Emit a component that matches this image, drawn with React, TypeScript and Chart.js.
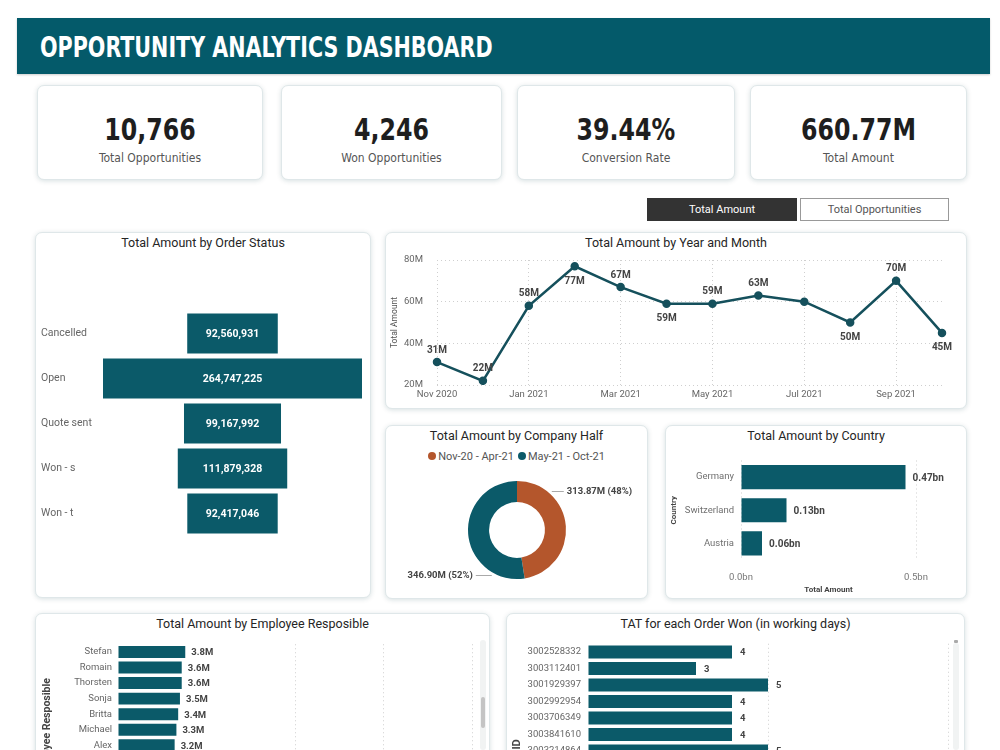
import React, { useEffect, useRef } from 'react';
import { Chart, registerables } from 'chart.js';

Chart.register(...registerables);

const TEAL = '#0b5a69';
const HEADER = '#045a6a';
const LINE = '#15505c';
const ORANGE = '#b4562c';
const GRID = '#cfcfcf';
const FONT = "Roboto, 'Open Sans', sans-serif";
const NARROW = "'Liberation Sans Narrow', 'DejaVu Sans Condensed', 'Roboto Condensed', sans-serif";

// KPI cards
const kpiValues = ['10,766', '4,246', '39.44%', '660.77M'];
const kpiLabels = ['Total Opportunities', 'Won Opportunities', 'Conversion Rate', 'Total Amount'];

// Total Amount by Order Status
const statusCategories = ['Cancelled', 'Open', 'Quote sent', 'Won - s', 'Won - t'];
const statusValues = [92560931, 264747225, 99167992, 111879328, 92417046];

// Total Amount by Year and Month (millions)
const months = ['Nov 2020', 'Dec 2020', 'Jan 2021', 'Feb 2021', 'Mar 2021', 'Apr 2021', 'May 2021', 'Jun 2021', 'Jul 2021', 'Aug 2021', 'Sep 2021', 'Oct 2021'];
const monthValues = [31, 22, 58, 77, 67, 59, 59, 63, 60, 50, 70, 45];
const monthLabelPlacement = ['above', 'above', 'above', 'below', 'above', 'below', 'above', 'above', 'none', 'below', 'above', 'below'];

// Total Amount by Company Half (millions)
const halfLabels = ['Nov-20 - Apr-21', 'May-21 - Oct-21'];
const halfValues = [313.87, 346.9];
const halfColors = [ORANGE, TEAL];

// Total Amount by Country (bn)
const countries = ['Germany', 'Switzerland', 'Austria'];
const countryValues = [0.47, 0.13, 0.06];

// Total Amount by Employee Responsible (millions)
const employees = ['Stefan', 'Romain', 'Thorsten', 'Sonja', 'Britta', 'Michael', 'Alex'];
const employeeValues = [3.8, 3.6, 3.6, 3.5, 3.4, 3.3, 3.2];

// TAT for each order won (working days)
const orderIds = ['3002528332', '3003112401', '3001929397', '3002992954', '3003706349', '3003841610', '3003214864'];
const tatValues = [4, 3, 5, 4, 4, 4, 5];

function barLabelPlugin(fmt: (i: number) => string, opts: { font: string; color: string; inside?: boolean; offset?: number }) {
  return {
    id: 'barLabels',
    afterDatasetsDraw(chart: any) {
      const ctx = chart.ctx;
      const meta = chart.getDatasetMeta(0);
      ctx.save();
      ctx.font = opts.font;
      ctx.fillStyle = opts.color;
      ctx.textBaseline = 'middle';
      meta.data.forEach((el: any, i: number) => {
        const t = fmt(i);
        if (opts.inside) {
          ctx.textAlign = 'center';
          ctx.fillText(t, (el.x + el.base) / 2, el.y + 0.5);
        } else {
          ctx.textAlign = 'left';
          ctx.fillText(t, el.x + (opts.offset || 6), el.y + 1);
        }
      });
      ctx.restore();
    },
  };
}

function ChartBox({ left, top, width, height, make }: { left: number; top: number; width: number; height: number; make: () => any }) {
  const ref = useRef<HTMLCanvasElement>(null);
  useEffect(() => {
    const chart = new Chart(ref.current as HTMLCanvasElement, make());
    return () => chart.destroy();
  }, []);
  return (
    <div style={{ position: 'absolute', left, top, width, height }}>
      <canvas ref={ref} />
    </div>
  );
}

const baseOpts = {
  responsive: true,
  maintainAspectRatio: false,
  animation: false,
  events: [],
};

// fix the axis box so only layout.padding places the plot area
const fixY = (w: number) => (s: any) => {
  s.width = w;
  s.paddingTop = 0;
  s.paddingBottom = 0;
};
const fixX = (h: number) => (s: any) => {
  s.height = h;
  s.paddingLeft = 0;
  s.paddingRight = 0;
};

function statusConfig() {
  const maxV = Math.max(...statusValues);
  return {
    type: 'bar',
    data: {
      labels: statusCategories,
      datasets: [{ data: statusValues.map((v) => [-v / 2, v / 2]), backgroundColor: TEAL, barPercentage: 0.89, categoryPercentage: 1 }],
    },
    options: {
      ...baseOpts,
      indexAxis: 'y',
      layout: { padding: { top: 11, right: 5, bottom: 4, left: 0 } },
      plugins: { legend: { display: false }, tooltip: { enabled: false } },
      scales: {
        x: { display: false, min: -maxV / 2, max: maxV / 2 },
        y: {
          grid: { display: false, drawTicks: false },
          border: { display: false },
          ticks: { crossAlign: 'far', color: '#666', font: { family: FONT, size: 10.5 } },
          afterFit: fixY(62),
        },
      },
    },
    plugins: [barLabelPlugin((i) => statusValues[i].toLocaleString('en-US'), { font: `bold 10.5px ${FONT}`, color: '#fff', inside: true })],
  };
}

function lineConfig() {
  return {
    type: 'line',
    data: {
      labels: months,
      datasets: [{ data: monthValues, borderColor: LINE, backgroundColor: LINE, borderWidth: 2.5, pointRadius: 3, pointBackgroundColor: LINE, tension: 0 }],
    },
    options: {
      ...baseOpts,
      layout: { padding: { top: 10, right: 20, bottom: 0, left: 0 } },
      plugins: { legend: { display: false }, tooltip: { enabled: false } },
      scales: {
        x: {
          offset: false,
          grid: { color: (c: any) => (c.index % 2 === 0 ? GRID : 'transparent'), drawTicks: false },
          border: { display: false, dash: [1, 3] },
          ticks: { autoSkip: false, maxRotation: 0, padding: 4, color: '#666', font: { family: FONT, size: 9.5 }, callback: (_v: any, i: number) => (i % 2 === 0 ? months[i] : '') },
          afterFit: fixX(20),
        },
        y: {
          min: 20,
          max: 80,
          ticks: { stepSize: 20, padding: 14, color: '#666', font: { family: FONT, size: 9.5 }, callback: (v: any) => v + 'M' },
          grid: { color: GRID, drawTicks: false },
          border: { display: false, dash: [1, 3] },
          title: { display: true, text: 'Total Amount', color: '#555', font: { family: FONT, size: 8.5 }, padding: { top: 2, bottom: 0 } },
          afterFit: fixY(49),
        },
      },
    },
    plugins: [
      {
        id: 'pointLabels',
        afterDatasetsDraw(chart: any) {
          const ctx = chart.ctx;
          const meta = chart.getDatasetMeta(0);
          ctx.save();
          ctx.font = `bold 10px ${FONT}`;
          ctx.fillStyle = '#444';
          ctx.textAlign = 'center';
          ctx.textBaseline = 'middle';
          meta.data.forEach((pt: any, i: number) => {
            const p = monthLabelPlacement[i];
            if (p === 'none') return;
            ctx.fillText(monthValues[i] + 'M', pt.x, p === 'above' ? pt.y - 12 : pt.y + 15);
          });
          ctx.restore();
        },
      },
    ],
  };
}

function halfConfig() {
  const anchorAngles = [-48, 119];
  const leaderLength = [12, 16];
  return {
    type: 'doughnut',
    data: { labels: halfLabels, datasets: [{ data: halfValues, backgroundColor: halfColors, borderWidth: 0 }] },
    options: {
      ...baseOpts,
      cutout: '57%',
      layout: { padding: { top: 11, right: 79, bottom: 11, left: 73 } },
      plugins: { legend: { display: false }, tooltip: { enabled: false } },
    },
    plugins: [
      {
        id: 'leaderLabels',
        afterDatasetsDraw(chart: any) {
          const ctx = chart.ctx;
          const meta = chart.getDatasetMeta(0);
          const total = halfValues.reduce((a, b) => a + b, 0);
          ctx.save();
          ctx.font = `bold 9.5px ${FONT}`;
          ctx.fillStyle = '#444';
          ctx.strokeStyle = '#aaa';
          ctx.lineWidth = 1;
          ctx.textBaseline = 'middle';
          meta.data.forEach((arc: any, i: number) => {
            const a = (anchorAngles[i] * Math.PI) / 180;
            const r = arc.outerRadius + 3;
            const x0 = arc.x + r * Math.cos(a);
            const y0 = Math.round(arc.y + r * Math.sin(a)) + 0.5;
            const dir = Math.cos(a) >= 0 ? 1 : -1;
            const x1 = x0 + dir * leaderLength[i];
            ctx.beginPath();
            ctx.moveTo(x0, y0);
            ctx.lineTo(x1, y0);
            ctx.stroke();
            const pct = Math.round((halfValues[i] / total) * 100);
            ctx.textAlign = dir > 0 ? 'left' : 'right';
            ctx.fillText(`${halfValues[i].toFixed(2)}M (${pct}%)`, x1 + dir * 3, y0);
          });
          ctx.restore();
        },
      },
    ],
  };
}

function countryConfig() {
  return {
    type: 'bar',
    data: { labels: countries, datasets: [{ data: countryValues, backgroundColor: TEAL, barPercentage: 0.73, categoryPercentage: 1 }] },
    options: {
      ...baseOpts,
      indexAxis: 'y',
      layout: { padding: { top: 10.5, right: 44, bottom: 0, left: 0 } },
      plugins: { legend: { display: false }, tooltip: { enabled: false } },
      scales: {
        x: {
          min: 0,
          max: 0.5,
          ticks: { stepSize: 0.5, padding: 12, color: '#777', font: { family: FONT, size: 9.5 }, callback: (v: any) => Number(v).toFixed(1) + 'bn' },
          grid: { color: GRID, drawTicks: false },
          border: { display: false, dash: [1, 3] },
          title: { display: true, text: 'Total Amount', color: '#444', font: { family: FONT, size: 8, weight: 'bold' }, padding: { top: 0, bottom: 3 } },
          afterFit: fixX(38),
        },
        y: {
          grid: { display: false, drawTicks: false },
          border: { display: false },
          ticks: { padding: 7, color: '#707070', font: { family: FONT, size: 9.5 } },
          title: { display: true, text: 'Country', color: '#444', font: { family: FONT, size: 8, weight: 'bold' }, padding: { top: 1, bottom: 0 } },
          afterFit: fixY(73),
        },
      },
    },
    plugins: [barLabelPlugin((i) => countryValues[i].toFixed(2) + 'bn', { font: `bold 10px ${FONT}`, color: '#444', offset: 7 })],
  };
}

function employeeConfig() {
  return {
    type: 'bar',
    data: { labels: employees, datasets: [{ data: employeeValues, backgroundColor: TEAL, barPercentage: 0.77, categoryPercentage: 1 }] },
    options: {
      ...baseOpts,
      indexAxis: 'y',
      layout: { padding: { top: 8.25, right: 11, bottom: 3, left: 0 } },
      plugins: { legend: { display: false }, tooltip: { enabled: false } },
      scales: {
        x: {
          min: 0,
          max: 20,
          ticks: { display: false, stepSize: 5 },
          grid: { color: (c: any) => (c.tick && c.tick.value >= 10 ? GRID : 'transparent'), drawTicks: false },
          border: { display: false, dash: [1, 3] },
          afterFit: fixX(0),
        },
        y: {
          grid: { display: false, drawTicks: false },
          border: { display: false },
          ticks: { padding: 6, color: '#666', font: { family: FONT, size: 9.5 } },
          afterFit: fixY(80),
        },
      },
    },
    plugins: [barLabelPlugin((i) => employeeValues[i].toFixed(1) + 'M', { font: `bold 9.5px ${FONT}`, color: '#444', offset: 6 })],
  };
}

function tatConfig() {
  return {
    type: 'bar',
    data: { labels: orderIds, datasets: [{ data: tatValues, backgroundColor: TEAL, barPercentage: 0.79, categoryPercentage: 1 }] },
    options: {
      ...baseOpts,
      indexAxis: 'y',
      layout: { padding: { top: 7.75, right: 12, bottom: 1.75, left: 0 } },
      plugins: { legend: { display: false }, tooltip: { enabled: false } },
      scales: {
        x: {
          min: 0,
          max: 10,
          ticks: { display: false, stepSize: 5 },
          grid: { color: (c: any) => (c.tick && c.tick.value > 0 ? GRID : 'transparent'), drawTicks: false },
          border: { display: false, dash: [1, 3] },
          afterFit: fixX(0),
        },
        y: {
          grid: { display: false, drawTicks: false },
          border: { display: false },
          ticks: { padding: 7, color: '#666', font: { family: FONT, size: 9.5 } },
          afterFit: fixY(80),
        },
      },
    },
    plugins: [barLabelPlugin((i) => String(tatValues[i]), { font: `bold 9.5px ${FONT}`, color: '#444', offset: 8 })],
  };
}

const panelStyle: React.CSSProperties = {
  position: 'absolute',
  background: '#fff',
  border: '1px solid #dfe7e9',
  borderRadius: 7,
  boxShadow: '0 1px 5px rgba(0,60,70,0.16)',
  boxSizing: 'border-box',
};

function Panel({ x, y, w, h, title }: { x: number; y: number; w: number; h: number; title: string }) {
  return (
    <div style={{ ...panelStyle, left: x, top: y, width: w, height: h }}>
      <div style={{ position: 'absolute', left: 0, right: 0, top: 2, textAlign: 'center', font: `12.5px ${FONT}`, color: '#252525' }}>{title}</div>
    </div>
  );
}

const kpiBoxes = [
  { x: 37, w: 226 },
  { x: 281, w: 221 },
  { x: 517, w: 218 },
  { x: 750, w: 217 },
];

export default function App() {
  return (
    <div style={{ position: 'relative', width: 1000, height: 750, overflow: 'hidden', background: '#fff', fontFamily: FONT }}>
      <style>{'html,body{margin:0;padding:0;overflow:hidden;background:#fff;}'}</style>
      <div style={{ position: 'absolute', left: 17, top: 18, width: 973, height: 56, background: HEADER, boxShadow: '0 1px 2px rgba(0,0,0,0.2)' }}>
        <div style={{ position: 'absolute', left: 23, top: 13, color: '#fff', font: `bold 28px ${NARROW}`, whiteSpace: 'nowrap', transform: 'scaleX(0.82)', transformOrigin: '0 0' }}>OPPORTUNITY ANALYTICS DASHBOARD</div>
      </div>

      {kpiBoxes.map((b, i) => (
        <div key={i} style={{ ...panelStyle, left: b.x, top: 85, width: b.w, height: 95 }}>
          <div style={{ position: 'absolute', left: 0, right: 0, top: 25, textAlign: 'center', font: `bold 31px ${NARROW}`, color: '#1e1e1e', transform: 'scaleX(0.85)' }}>{kpiValues[i]}</div>
          <div style={{ position: 'absolute', left: 0, right: 0, top: 64, textAlign: 'center', font: `12.5px ${NARROW}`, color: '#555', transform: 'scaleX(0.96)' }}>{kpiLabels[i]}</div>
        </div>
      ))}

      <div style={{ position: 'absolute', left: 647, top: 198, width: 150, height: 23, background: '#333', color: '#fff', font: `11px ${FONT}`, display: 'flex', alignItems: 'center', justifyContent: 'center' }}>Total Amount</div>
      <div style={{ position: 'absolute', left: 800, top: 198, width: 149, height: 23, boxSizing: 'border-box', border: '1px solid #999', background: '#fff', color: '#555', font: `11px ${FONT}`, display: 'flex', alignItems: 'center', justifyContent: 'center' }}>Total Opportunities</div>

      <Panel x={35} y={232} w={336} h={366} title="Total Amount by Order Status" />
      <Panel x={385} y={232} w={582} h={177} title="Total Amount by Year and Month" />
      <Panel x={385} y={425} w={263} h={174} title="Total Amount by Company Half" />
      <Panel x={665} y={425} w={302} h={174} title="Total Amount by Country" />
      <Panel x={35} y={613} w={455} h={160} title="Total Amount by Employee Resposible" />
      <Panel x={506} y={613} w={459} h={160} title="TAT for each Order Won (in working days)" />

      <ChartBox left={41} top={300} width={326} height={240} make={statusConfig} />
      <ChartBox left={388} top={250} width={574} height={155} make={lineConfig} />

      <div style={{ position: 'absolute', left: 385, width: 263, top: 450, textAlign: 'center', font: `11px ${FONT}`, color: '#555' }}>
        {halfLabels.map((l, i) => (
          <span key={i} style={{ marginRight: i === 0 ? 4 : 0 }}>
            <span style={{ display: 'inline-block', width: 8, height: 8, borderRadius: 4, background: halfColors[i], marginRight: 2, verticalAlign: 0 }} />
            {l}
          </span>
        ))}
      </div>
      <ChartBox left={395} top={470} width={250} height={120} make={halfConfig} />
      <ChartBox left={668} top={450} width={292} height={148} make={countryConfig} />

      <ChartBox left={38} top={636} width={445} height={120} make={employeeConfig} />
      <div style={{ position: 'absolute', left: 40, top: 678, writingMode: 'vertical-rl', transform: 'rotate(180deg)', font: `bold 10.5px ${FONT}`, color: '#444', lineHeight: '14px', height: 120, textAlign: 'right' }}>Employee Resposible</div>
      <div style={{ position: 'absolute', left: 480, top: 640, width: 6, height: 110, background: '#f1f3f3', borderRadius: 3 }} />
      <div style={{ position: 'absolute', left: 481, top: 697, width: 4, height: 31, background: '#c4c4c4', borderRadius: 2 }} />

      <ChartBox left={508} top={636} width={452} height={125} make={tatConfig} />
      <div style={{ position: 'absolute', left: 510, top: 739, writingMode: 'vertical-rl', transform: 'rotate(180deg)', font: `bold 11px ${FONT}`, color: '#444', lineHeight: '14px', height: 60, textAlign: 'right' }}>Order ID</div>
      <div style={{ position: 'absolute', left: 953, top: 643, width: 6, height: 107, background: '#f1f3f3', borderRadius: 3 }} />
      <div style={{ position: 'absolute', left: 954, top: 640, width: 4, height: 3, background: '#aaa', borderRadius: 1 }} />
    </div>
  );
}
